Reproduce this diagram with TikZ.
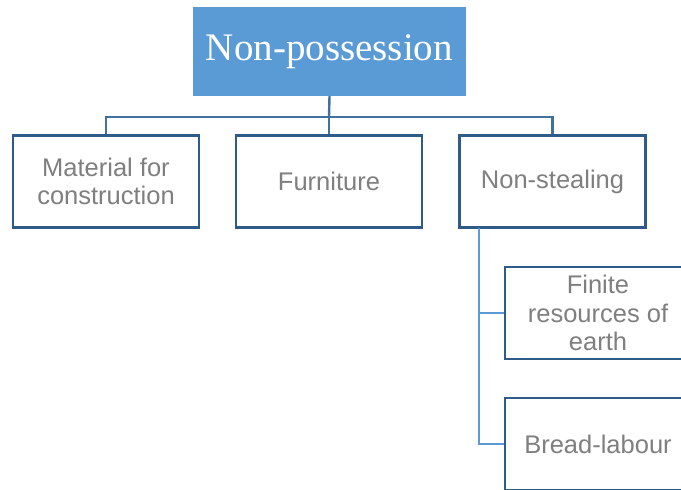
\documentclass[tikz,border=0pt]{standalone}
\usepackage{fontspec}
\setmainfont{Liberation Sans}
\newfontfamily\titlefont{Liberation Serif}
\definecolor{topfill}{HTML}{5B9BD5}
\definecolor{boxline}{HTML}{2F5B89}
\definecolor{conndark}{HTML}{41719C}
\definecolor{connlight}{HTML}{5B9BD5}
\definecolor{txtgray}{HTML}{7F7F7F}
\begin{document}
\begin{tikzpicture}[x=1pt,y=-1pt,
  child/.style={draw=boxline,line width=2.4pt,fill=white,minimum width=186pt,minimum height=92pt,
    text=txtgray,align=center,font=\fontsize{25.5}{28.5}\selectfont,inner sep=2pt},
  topbox/.style={fill=topfill,minimum width=273pt,minimum height=89pt,text=white,
    font=\titlefont\fontsize{39}{40}\selectfont},
  conn/.style={draw=conndark,line width=2.4pt},
  conn2/.style={draw=connlight,line width=2.6pt}]
\useasboundingbox (0,0) rectangle (681,490);
\node[topbox] (top) at (329.5,51.5) {Non-possession};
\node[child] (mat) at (106,181.5) {Material for\\construction};
\node[child] (fur) at (329,181.5) {Furniture};
\node[child] (ns) at (552.5,181.5) {Non-stealing};
\node[child] (fin) at (598,313) {Finite\\resources of\\earth};
\node[child] (brd) at (598,444) {Bread-labour};
\coordinate (bar) at (329,117);
\coordinate (trunk) at (479,228);
\draw[conn] (top.south) -- (bar);
\draw[conn] (mat.north) |- (bar) -| (ns.north);
\draw[conn] (bar) -- (fur.north);
\draw[conn2] (trunk) |- (fin.west);
\draw[conn2] (trunk) |- (brd.west);
\end{tikzpicture}
\end{document}
